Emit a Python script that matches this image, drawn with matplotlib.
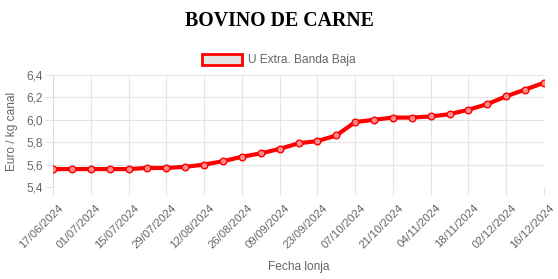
import matplotlib
matplotlib.use("Agg")
import matplotlib.pyplot as plt
from matplotlib.patches import Rectangle
from matplotlib.transforms import ScaledTranslation

dates = ["17/06/2024", "24/06/2024", "01/07/2024", "08/07/2024", "15/07/2024", "22/07/2024",
         "29/07/2024", "05/08/2024", "12/08/2024", "19/08/2024", "26/08/2024", "02/09/2024",
         "09/09/2024", "16/09/2024", "23/09/2024", "30/09/2024", "07/10/2024", "14/10/2024",
         "21/10/2024", "28/10/2024", "04/11/2024", "11/11/2024", "18/11/2024", "25/11/2024",
         "02/12/2024", "09/12/2024", "16/12/2024"]
values = [5.56, 5.56, 5.56, 5.56, 5.56, 5.57, 5.57, 5.58, 5.60, 5.63, 5.67, 5.70,
          5.74, 5.79, 5.81, 5.86, 5.98, 6.00, 6.02, 6.02, 6.03, 6.05, 6.09, 6.14,
          6.21, 6.27, 6.33]
yticks = [5.4, 5.6, 5.8, 6.0, 6.2, 6.4]
ytick_labels = ["5,4", "5,6", "5,8", "6,0", "6,2", "6,4"]
title = "BOVINO DE CARNE"
series_name = "U Extra. Banda Baja"
xlabel = "Fecha lonja"
ylabel = "Euro / kg canal"

W, H = 558, 279
plt.rcParams['font.family'] = ['Liberation Sans', 'DejaVu Sans']
fig = plt.figure(figsize=(W/100, H/100), dpi=100)
ax = fig.add_axes([53/W, 1-187/H, (544-53)/W, (187-75)/H])

x = list(range(len(dates)))
ax.plot(x, values, color='#ff0000', lw=3, zorder=3, solid_joinstyle='round', solid_capstyle='round')
ax.plot(x, values, ls='none', marker='o', ms=4.8, mfc=(1, 0.55, 0.55, 1), mec='#ff0000', mew=1, zorder=4)

ax.set_xlim(0, len(dates)-1)
ax.set_ylim(5.4, 6.4)
ax.set_yticks(yticks)
ax.set_yticklabels(ytick_labels)
ax.set_xticks(x[::2])
ax.set_xticklabels(dates[::2], rotation=45, ha='right', va='top', rotation_mode='anchor')
ax.grid(True, color='#e5e5e5', lw=0.8)
ax.set_axisbelow(True)
for s in ax.spines.values():
    s.set_visible(False)
ax.axhline(5.4, color='#d9d9d9', lw=0.8, zorder=1)
ax.axvline(0, color='#d9d9d9', lw=0.8, zorder=1)
ax.tick_params(axis='both', colors='#e5e5e5', labelcolor='#666666', labelsize=8.6, width=0.8)
ax.tick_params(axis='x', length=5.4, pad=6.0, labelsize=8.2)
ax.tick_params(axis='y', length=5.8, pad=1.5)
off = ScaledTranslation(5/100, 0, fig.dpi_scale_trans)
for lab in ax.get_xticklabels():
    lab.set_transform(lab.get_transform() + off)

fig.text(12/W, 1-131/H, ylabel, rotation=90, ha='center', va='center', fontsize=8.6, color='#666666')
fig.text(298.5/W, 1-267/H, xlabel, ha='center', va='center', fontsize=8.6, color='#666666')

fig.text(279/W, 1-21/H, title, ha='center', va='center', fontsize=14.3, fontweight='bold',
         family=['Liberation Serif', 'DejaVu Serif'])
fig.patches.append(Rectangle((202.4/W, 1-64.6/H), 39.2/W, 10.2/H, transform=fig.transFigure,
                             facecolor='#e5e5e5', edgecolor='#ff0000', lw=2.0))
fig.text(248/W, 1-59.5/H, series_name, ha='left', va='center', fontsize=8.6, color='#666666')

fig.savefig("out.png", dpi=100)
